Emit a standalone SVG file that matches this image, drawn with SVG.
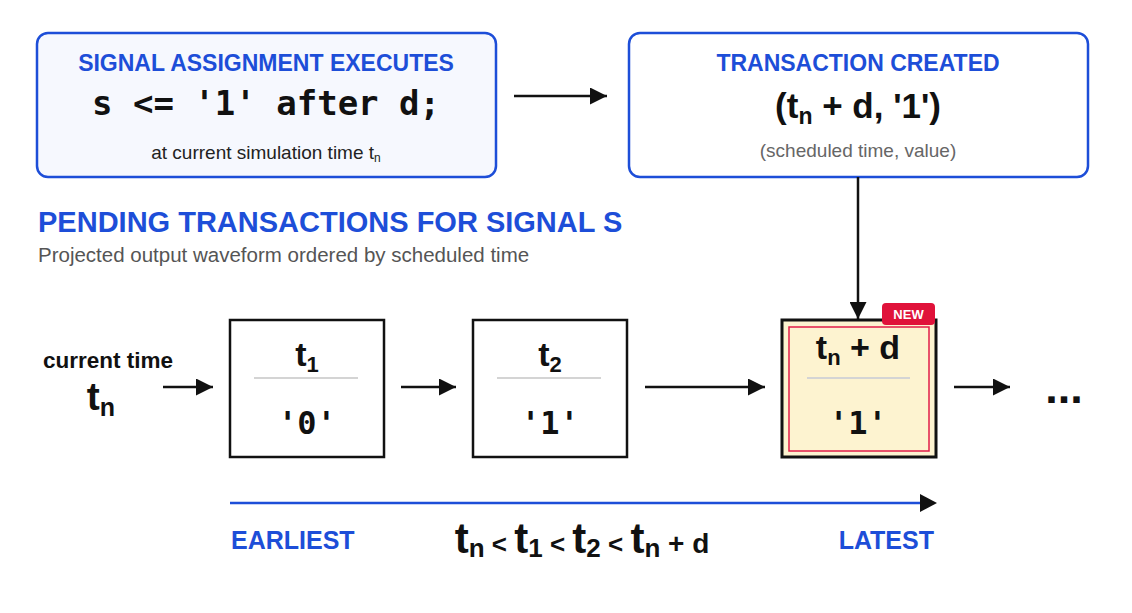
<svg xmlns="http://www.w3.org/2000/svg" width="1132" height="613" viewBox="0 0 1132 613">
<defs>
<style>
.sans{font-family:"Liberation Sans",Arial,sans-serif}
.mono{font-family:"DejaVu Sans Mono","Liberation Mono",monospace;font-weight:bold}
.blue{fill:#1d4ed8}
.hdr{font-family:"Liberation Sans",Arial,sans-serif;font-weight:bold;font-size:23px;fill:#1d4ed8}
.big{font-family:"Liberation Sans",Arial,sans-serif;font-weight:bold;fill:#111}
.card{fill:#f6f8fe;stroke:#1d4ed8;stroke-width:2.5}
.card2{fill:#ffffff;stroke:#1d4ed8;stroke-width:2.5}
.slot{fill:#ffffff;stroke:#111;stroke-width:2.5}
.div{stroke:#d4d4d4;stroke-width:2}
.conn{stroke:#111;stroke-width:2.5;fill:none}
</style>
<marker id="ah2" viewBox="0 0 10 10" refX="10" refY="5" markerWidth="17" markerHeight="17" markerUnits="userSpaceOnUse" orient="auto">
<path d="M0,0 L10,5 L0,10 z" fill="#111"/>
</marker>
</defs>
<rect width="1132" height="613" fill="#ffffff"/>

<g id="assign">
<rect class="card" x="37" y="33" width="459" height="144" rx="11"/>
<text class="hdr" x="266" y="71" text-anchor="middle">SIGNAL ASSIGNMENT EXECUTES</text>
<text class="mono" x="266" y="115" text-anchor="middle" font-size="34" fill="#111">s &lt;= '1' after d;</text>
<text class="sans" x="266" y="159" text-anchor="middle" font-size="19" fill="#222">at current simulation time t<tspan font-size="12" dy="3">n</tspan></text>
</g>

<g id="created">
<rect class="card2" x="629" y="33" width="459" height="144" rx="11"/>
<text class="hdr" x="858" y="71" text-anchor="middle">TRANSACTION CREATED</text>
<text class="big" x="858" y="118" text-anchor="middle" font-size="35">(t<tspan font-size="23" dy="6">n</tspan><tspan dy="-6"> + d, '1')</tspan></text>
<text class="sans" x="858" y="157" text-anchor="middle" font-size="19" fill="#666">(scheduled time, value)</text>
</g>

<g id="heading">
<text class="sans blue" x="38" y="232" font-size="29" font-weight="bold">PENDING TRANSACTIONS FOR SIGNAL S</text>
<text class="sans" x="38" y="262" font-size="20.5" fill="#555">Projected output waveform ordered by scheduled time</text>
</g>

<g id="current">
<text class="big" x="108" y="368" text-anchor="middle" font-size="22.5">current time</text>
<text class="big" x="101" y="410" text-anchor="middle" font-size="39">t<tspan font-size="25" dy="6">n</tspan></text>
</g>

<g id="slot1">
<rect class="slot" x="230" y="320" width="154" height="137"/>
<text class="big" x="307" y="366" text-anchor="middle" font-size="34">t<tspan font-size="22" dy="6">1</tspan></text>
<line class="div" x1="254" y1="378" x2="358" y2="378"/>
<text class="mono" x="307" y="434" text-anchor="middle" font-size="32" fill="#111">'0'</text>
</g>

<g id="slot2">
<rect class="slot" x="473" y="320" width="154" height="137"/>
<text class="big" x="550" y="366" text-anchor="middle" font-size="34">t<tspan font-size="22" dy="6">2</tspan></text>
<line class="div" x1="497" y1="378" x2="601" y2="378"/>
<text class="mono" x="550" y="434" text-anchor="middle" font-size="32" fill="#111">'1'</text>
</g>

<g id="slot3">
<rect x="782" y="320" width="154" height="137" fill="#fdf3d0" stroke="#111" stroke-width="3"/>
<rect x="789" y="327" width="140" height="124" fill="none" stroke="#e11d48" stroke-width="1.5"/>
<text class="big" x="858" y="359" text-anchor="middle" font-size="34">t<tspan font-size="22" dy="6">n</tspan><tspan dy="-6"> + d</tspan></text>
<line class="div" x1="807" y1="378" x2="910" y2="378"/>
<text class="mono" x="858" y="434" text-anchor="middle" font-size="32" fill="#111">'1'</text>
<rect x="882" y="303" width="53" height="22" rx="4" fill="#e0123a"/>
<text class="sans" x="908.5" y="319" text-anchor="middle" font-size="13" font-weight="bold" fill="#ffffff">NEW</text>
</g>

<g id="more">
<text class="big" x="1064" y="403" text-anchor="middle" font-size="45">...</text>
</g>

<g id="connectors">
<line class="conn" x1="514" y1="96" x2="607" y2="96" marker-end="url(#ah2)"/>
<line class="conn" x1="858" y1="177" x2="858" y2="319" marker-end="url(#ah2)"/>
<line class="conn" x1="163" y1="387" x2="213" y2="387" marker-end="url(#ah2)"/>
<line class="conn" x1="401" y1="387" x2="456" y2="387" marker-end="url(#ah2)"/>
<line class="conn" x1="645" y1="387" x2="765" y2="387" marker-end="url(#ah2)"/>
<line class="conn" x1="954" y1="387" x2="1010" y2="387" marker-end="url(#ah2)"/>
</g>

<g id="timeline">
<line x1="230" y1="503" x2="921" y2="503" stroke="#1d4ed8" stroke-width="2.5"/>
<path d="M920,494 L937,503 L920,512 z" fill="#111"/>
<text class="sans blue" x="231" y="549" font-size="25" font-weight="bold">EARLIEST</text>
<text class="sans blue" x="934" y="549" font-size="25" font-weight="bold" text-anchor="end">LATEST</text>
<text class="big" x="582" y="553" text-anchor="middle" font-size="42">t<tspan font-size="26" dy="4">n</tspan><tspan font-size="26" dy="-4"> &lt; </tspan>t<tspan font-size="26" dy="4">1</tspan><tspan font-size="26" dy="-4"> &lt; </tspan>t<tspan font-size="26" dy="4">2</tspan><tspan font-size="26" dy="-4"> &lt; </tspan>t<tspan font-size="26" dy="4">n</tspan><tspan font-size="28" dy="-4"> + d</tspan></text>
</g>
</svg>
